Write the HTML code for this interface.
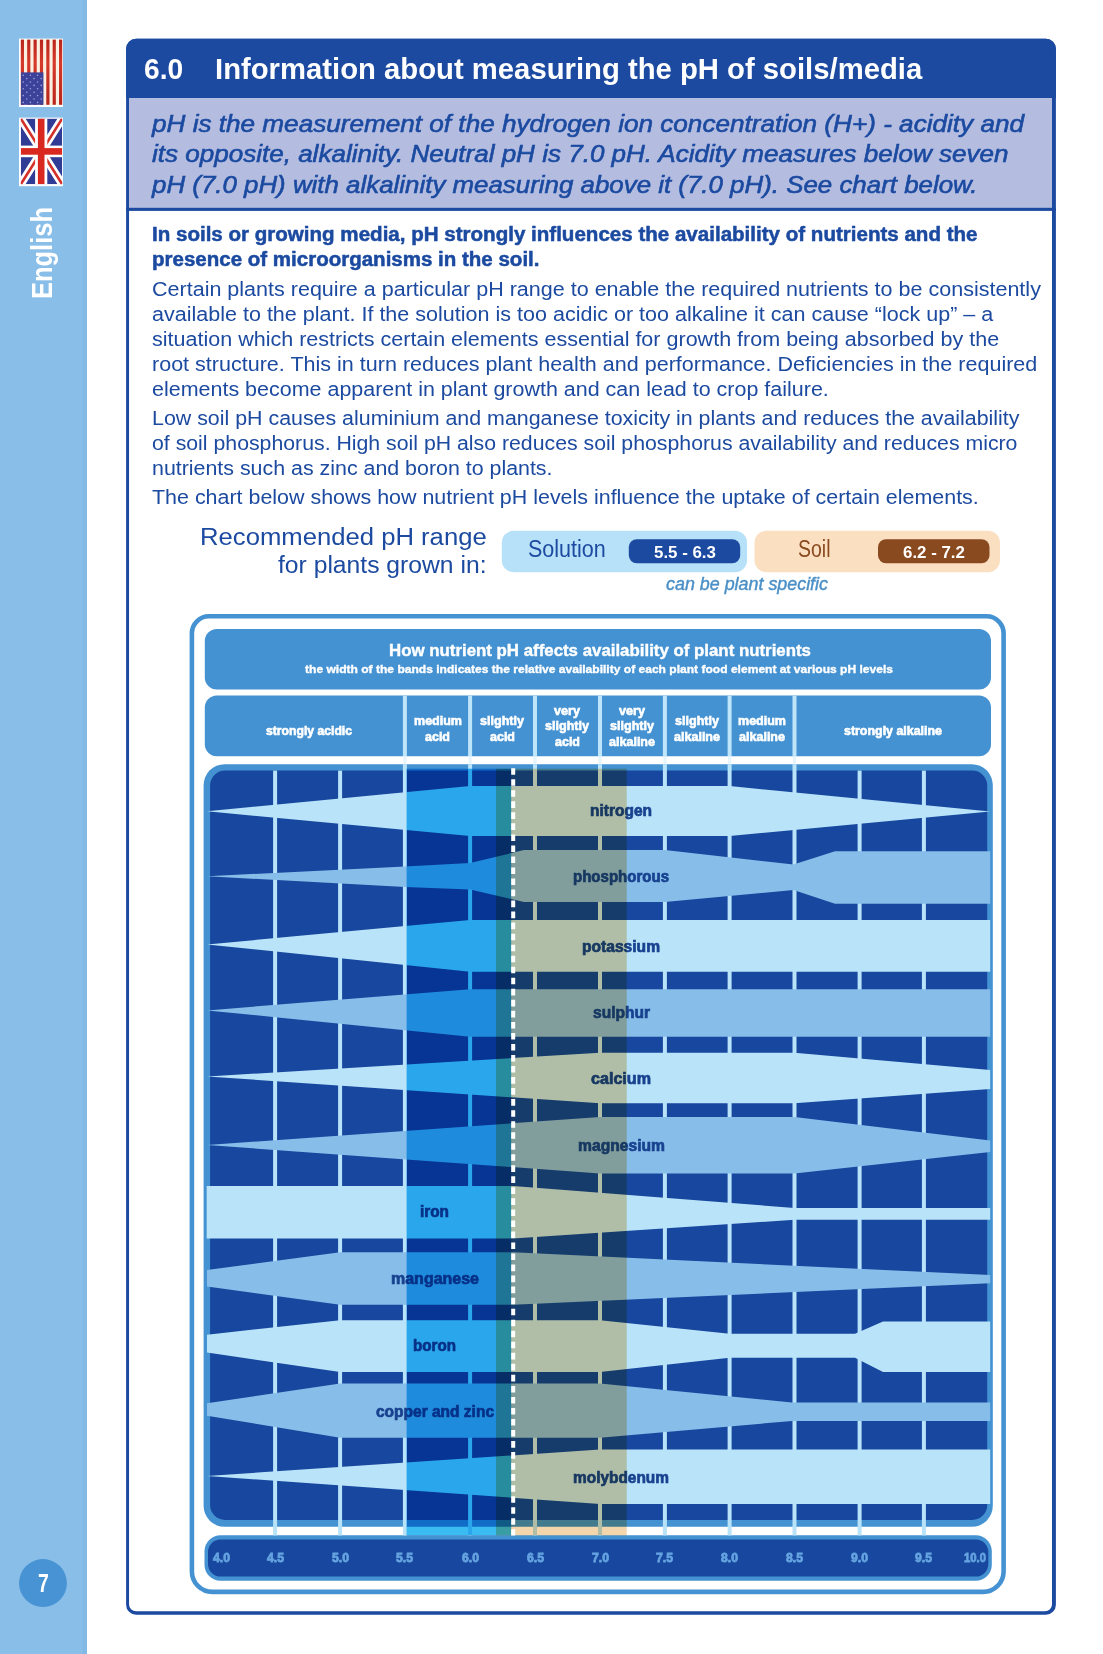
<!DOCTYPE html>
<html lang="en"><head><meta charset="utf-8"><title>6.0 Information about measuring the pH of soils/media</title>
<style>
html,body{margin:0;padding:0;background:#fff;}
body{width:1103px;height:1654px;position:relative;overflow:hidden;font-family:"Liberation Sans",sans-serif;}
#page{position:absolute;left:0;top:0;width:1103px;height:1654px;background:#fff;isolation:isolate;overflow:hidden;}
.t{position:absolute;white-space:pre;line-height:1;transform-origin:0 50%;}
.abs{position:absolute;}
svg{position:absolute;left:0;top:0;}
.mul{position:absolute;left:0;top:0;mix-blend-mode:multiply;}
</style></head><body><div id="page">
<svg width="1103" height="1654" viewBox="0 0 1103 1654">
<rect x="0" y="0" width="86.9" height="1654" fill="#89bee9"/>
<rect x="82.3" y="0" width="4.6" height="1654" fill="#83b9e5"/>
<path fill-rule="evenodd" fill="#1b4aa0" d="M136.10 38.80 H1045.90 A10.00 10.00 0 0 1 1055.90 48.80 V1604.80 A10.00 10.00 0 0 1 1045.90 1614.80 H136.10 A10.00 10.00 0 0 1 126.10 1604.80 V48.80 A10.00 10.00 0 0 1 136.10 38.80 Z M136.05 41.80 H1045.00 A7.00 7.00 0 0 1 1052.00 48.80 V1604.30 A7.00 7.00 0 0 1 1045.00 1611.30 H136.05 A7.00 7.00 0 0 1 129.05 1604.30 V48.80 A7.00 7.00 0 0 1 136.05 41.80 Z"/>
<path fill="#1b4aa0" d="M126.10 98.3 V48.80 A10 10 0 0 1 136.10 38.80 H1045.90 A10 10 0 0 1 1055.90 48.80 V98.3 Z"/>
<rect x="129.05" y="98.1" width="922.95" height="109.9" fill="#b4bde0"/>
<rect x="126.10" y="207.8" width="929.80" height="3.1" fill="#1b4aa0"/>
<rect x="501.8" y="530.8" width="245.2" height="41.4" rx="12" fill="#b7e1f8"/>
<rect x="628.8" y="539.2" width="111.4" height="24.1" rx="8" fill="#1b4aa0"/>
<rect x="754.5" y="530.8" width="245.5" height="41.4" rx="12" fill="#fbdfc1"/>
<rect x="878" y="539.2" width="111.5" height="24.1" rx="8" fill="#8a4a20"/>
<circle cx="42.95" cy="1583.05" r="23.95" fill="#4793d3"/>
<rect x="19" y="38.6" width="44" height="68.4" fill="#fff"/>
<defs><linearGradient id="rg" x1="0" y1="0" x2="0" y2="1"><stop offset="0" stop-color="#b8241c"/><stop offset="0.35" stop-color="#d63a2a"/><stop offset="1" stop-color="#b8241c"/></linearGradient></defs>
<rect x="20.8" y="39.6" width="41.4" height="65.2" fill="#fbefe2"/>
<rect x="20.80" y="39.6" width="3.18" height="65.2" fill="url(#rg)"/>
<rect x="27.17" y="39.6" width="3.18" height="65.2" fill="url(#rg)"/>
<rect x="33.54" y="39.6" width="3.18" height="65.2" fill="url(#rg)"/>
<rect x="39.91" y="39.6" width="3.18" height="65.2" fill="url(#rg)"/>
<rect x="46.28" y="39.6" width="3.18" height="65.2" fill="url(#rg)"/>
<rect x="52.65" y="39.6" width="3.18" height="65.2" fill="url(#rg)"/>
<rect x="59.02" y="39.6" width="3.18" height="65.2" fill="url(#rg)"/>
<rect x="21" y="72.4" width="22.4" height="32.4" fill="#3c4199"/>
<circle cx="23.2" cy="75.2" r="0.8" fill="#9da0d4"/>
<circle cx="30.4" cy="75.2" r="0.8" fill="#9da0d4"/>
<circle cx="37.6" cy="75.2" r="0.8" fill="#9da0d4"/>
<circle cx="26.8" cy="78.6" r="0.8" fill="#9da0d4"/>
<circle cx="34.0" cy="78.6" r="0.8" fill="#9da0d4"/>
<circle cx="41.2" cy="78.6" r="0.8" fill="#9da0d4"/>
<circle cx="23.2" cy="82.0" r="0.8" fill="#9da0d4"/>
<circle cx="30.4" cy="82.0" r="0.8" fill="#9da0d4"/>
<circle cx="37.6" cy="82.0" r="0.8" fill="#9da0d4"/>
<circle cx="26.8" cy="85.4" r="0.8" fill="#9da0d4"/>
<circle cx="34.0" cy="85.4" r="0.8" fill="#9da0d4"/>
<circle cx="41.2" cy="85.4" r="0.8" fill="#9da0d4"/>
<circle cx="23.2" cy="88.8" r="0.8" fill="#9da0d4"/>
<circle cx="30.4" cy="88.8" r="0.8" fill="#9da0d4"/>
<circle cx="37.6" cy="88.8" r="0.8" fill="#9da0d4"/>
<circle cx="26.8" cy="92.2" r="0.8" fill="#9da0d4"/>
<circle cx="34.0" cy="92.2" r="0.8" fill="#9da0d4"/>
<circle cx="41.2" cy="92.2" r="0.8" fill="#9da0d4"/>
<circle cx="23.2" cy="95.6" r="0.8" fill="#9da0d4"/>
<circle cx="30.4" cy="95.6" r="0.8" fill="#9da0d4"/>
<circle cx="37.6" cy="95.6" r="0.8" fill="#9da0d4"/>
<circle cx="26.8" cy="99.0" r="0.8" fill="#9da0d4"/>
<circle cx="34.0" cy="99.0" r="0.8" fill="#9da0d4"/>
<circle cx="41.2" cy="99.0" r="0.8" fill="#9da0d4"/>
<circle cx="23.2" cy="102.4" r="0.8" fill="#9da0d4"/>
<circle cx="30.4" cy="102.4" r="0.8" fill="#9da0d4"/>
<circle cx="37.6" cy="102.4" r="0.8" fill="#9da0d4"/>
<rect x="19" y="117.6" width="44" height="68.6" fill="#fff"/>
<clipPath id="uk"><rect x="20.8" y="118.6" width="41.4" height="65.6"/></clipPath>
<g clip-path="url(#uk)">
<rect x="20.8" y="118.6" width="41.4" height="65.6" fill="#2f3b94"/>
<path d="M20.8 118.6 L62.2 184.2 M62.2 118.6 L20.8 184.2" stroke="#fff" stroke-width="8"/>
<path d="M20.8 118.6 L62.2 184.2 M62.2 118.6 L20.8 184.2" stroke="#d4312a" stroke-width="2.6"/>
<rect x="35.1" y="118.6" width="12.2" height="65.6" fill="#fff"/>
<rect x="20.8" y="145.6" width="41.4" height="11.6" fill="#fff"/>
<rect x="37.9" y="118.6" width="6.6" height="65.6" fill="#d9281f"/>
<rect x="20.8" y="148.1" width="41.4" height="6.6" fill="#d9281f"/>
</g>
<path d="M208.9 616.3 H986.6 A17.0 17.0 0 0 1 1003.6 633.3 V1571.4 A20.5 20.5 0 0 1 983.1 1591.9 H212.4 A20.5 20.5 0 0 1 191.9 1571.4 V633.3 A17.0 17.0 0 0 1 208.9 616.3 Z" fill="none" stroke="#4592d2" stroke-width="4.6"/>
<rect x="204.8" y="629" width="786.2" height="60.6" rx="12" fill="#4592d2"/>
<rect x="204.8" y="695.6" width="786.2" height="60.6" rx="12" fill="#4592d2"/>
<rect x="203.6" y="764.2" width="789.2" height="762.6" rx="21" fill="#4592d2"/>
<rect x="210.1" y="770.6" width="777.1" height="749.3" rx="15" fill="#17479e"/>
<rect x="204.5" y="1535.2" width="787.3" height="45.5" rx="16" fill="#4592d2"/>
<rect x="208" y="1539.6" width="780.3" height="37" rx="12.5" fill="#17479e"/>
<rect x="273.1" y="770.6" width="4" height="764.8" fill="#b9e3f9"/>
<rect x="338.1" y="770.6" width="4" height="764.8" fill="#b9e3f9"/>
<rect x="402.9" y="695.6" width="4" height="60.6" fill="#bfe5fa"/>
<rect x="403.4" y="756.2" width="3" height="8" fill="#e6f4fd"/>
<rect x="402.9" y="764.2" width="4" height="771.2" fill="#b9e3f9"/>
<rect x="468.1" y="695.6" width="4" height="60.6" fill="#bfe5fa"/>
<rect x="468.6" y="756.2" width="3" height="8" fill="#e6f4fd"/>
<rect x="468.1" y="764.2" width="4" height="771.2" fill="#b9e3f9"/>
<rect x="533.0" y="695.6" width="4" height="60.6" fill="#bfe5fa"/>
<rect x="533.5" y="756.2" width="3" height="8" fill="#e6f4fd"/>
<rect x="533.0" y="764.2" width="4" height="771.2" fill="#b9e3f9"/>
<rect x="598.0" y="695.6" width="4" height="60.6" fill="#bfe5fa"/>
<rect x="598.5" y="756.2" width="3" height="8" fill="#e6f4fd"/>
<rect x="598.0" y="764.2" width="4" height="771.2" fill="#b9e3f9"/>
<rect x="662.9" y="695.6" width="4" height="60.6" fill="#bfe5fa"/>
<rect x="663.4" y="756.2" width="3" height="8" fill="#e6f4fd"/>
<rect x="662.9" y="764.2" width="4" height="771.2" fill="#b9e3f9"/>
<rect x="727.6" y="695.6" width="4" height="60.6" fill="#bfe5fa"/>
<rect x="728.1" y="756.2" width="3" height="8" fill="#e6f4fd"/>
<rect x="727.6" y="764.2" width="4" height="771.2" fill="#b9e3f9"/>
<rect x="792.5" y="695.6" width="4" height="60.6" fill="#bfe5fa"/>
<rect x="793.0" y="756.2" width="3" height="8" fill="#e6f4fd"/>
<rect x="792.5" y="764.2" width="4" height="771.2" fill="#b9e3f9"/>
<rect x="857.6" y="770.6" width="4" height="764.8" fill="#b9e3f9"/>
<rect x="921.9" y="770.6" width="4" height="764.8" fill="#b9e3f9"/>
<polygon points="207.0,811.3 470.1,786.0 729.6,786.0 990.2,811.6 729.6,836.0 470.1,836.0" fill="#b9e3f9"/>
<polygon points="207.0,876.3 404.9,866.5 470.1,863.0 524.0,850.0 664.9,850.0 793.5,864.5 835.0,851.2 990.2,851.2 990.2,903.7 835.0,903.7 793.5,890.0 664.9,902.0 524.0,902.0 470.1,889.5 404.9,887.0" fill="#87bde9"/>
<polygon points="207.0,944.5 470.1,920.0 990.2,920.0 990.2,971.7 470.1,971.7" fill="#b9e3f9"/>
<polygon points="207.0,1010.4 470.1,989.2 990.2,989.2 990.2,1036.8 470.1,1036.8" fill="#87bde9"/>
<polygon points="207.0,1076.5 600.0,1052.8 794.5,1052.8 990.2,1070.0 990.2,1089.0 794.5,1103.3 600.0,1103.3" fill="#b9e3f9"/>
<polygon points="207.0,1145.0 600.0,1117.0 794.5,1117.0 990.2,1140.4 990.2,1152.0 794.5,1173.5 600.0,1173.5" fill="#87bde9"/>
<polygon points="206.7,1186.1 513.0,1186.1 794.5,1207.9 990.2,1207.9 990.2,1219.7 794.5,1219.7 513.0,1238.6 206.7,1238.6" fill="#b9e3f9"/>
<polygon points="207.0,1270.0 340.1,1252.3 513.0,1252.3 990.2,1275.0 990.2,1283.3 513.0,1304.8 340.1,1304.8 207.0,1286.4" fill="#87bde9"/>
<polygon points="207.0,1334.7 340.1,1320.2 600.0,1320.2 729.6,1333.8 855.0,1333.8 883.0,1321.4 990.2,1321.4 990.2,1372.0 883.0,1372.0 855.0,1357.8 729.6,1357.8 600.0,1372.0 340.1,1372.0 207.0,1352.6" fill="#b9e3f9"/>
<polygon points="207.0,1403.3 340.1,1383.4 600.0,1383.4 792.0,1402.4 990.2,1402.4 990.2,1421.0 792.0,1421.0 600.0,1437.7 340.1,1437.7 207.0,1415.8" fill="#87bde9"/>
<polygon points="207.0,1476.0 600.0,1449.5 990.2,1449.5 990.2,1504.0 600.0,1504.0" fill="#b9e3f9"/>
</svg>
<div class="t" style="left:266.0px;top:724.5px;font-size:12.2px;font-weight:700;color:#fff;-webkit-text-stroke:0.6px #fff;transform:scaleX(0.9998);">strongly acidic</div>
<div class="t" style="left:413.5px;top:715.0px;font-size:12.2px;font-weight:700;color:#fff;-webkit-text-stroke:0.6px #fff;transform:scaleX(1.0271);">medium</div>
<div class="t" style="left:425.0px;top:730.7px;font-size:12.2px;font-weight:700;color:#fff;-webkit-text-stroke:0.6px #fff;transform:scaleX(1.0250);">acid</div>
<div class="t" style="left:480.0px;top:715.0px;font-size:12.2px;font-weight:700;color:#fff;-webkit-text-stroke:0.6px #fff;transform:scaleX(1.0311);">slightly</div>
<div class="t" style="left:489.5px;top:730.7px;font-size:12.2px;font-weight:700;color:#fff;-webkit-text-stroke:0.6px #fff;transform:scaleX(1.0250);">acid</div>
<div class="t" style="left:554.0px;top:704.7px;font-size:12.2px;font-weight:700;color:#fff;-webkit-text-stroke:0.6px #fff;transform:scaleX(1.0368);">very</div>
<div class="t" style="left:545.0px;top:720.2px;font-size:12.2px;font-weight:700;color:#fff;-webkit-text-stroke:0.6px #fff;transform:scaleX(1.0311);">slightly</div>
<div class="t" style="left:554.5px;top:735.7px;font-size:12.2px;font-weight:700;color:#fff;-webkit-text-stroke:0.6px #fff;transform:scaleX(1.0250);">acid</div>
<div class="t" style="left:619.0px;top:704.7px;font-size:12.2px;font-weight:700;color:#fff;-webkit-text-stroke:0.6px #fff;transform:scaleX(1.0368);">very</div>
<div class="t" style="left:610.0px;top:720.2px;font-size:12.2px;font-weight:700;color:#fff;-webkit-text-stroke:0.6px #fff;transform:scaleX(1.0311);">slightly</div>
<div class="t" style="left:609.0px;top:735.7px;font-size:12.2px;font-weight:700;color:#fff;-webkit-text-stroke:0.6px #fff;transform:scaleX(1.0287);">alkaline</div>
<div class="t" style="left:675.0px;top:715.0px;font-size:12.2px;font-weight:700;color:#fff;-webkit-text-stroke:0.6px #fff;transform:scaleX(1.0311);">slightly</div>
<div class="t" style="left:674.0px;top:730.7px;font-size:12.2px;font-weight:700;color:#fff;-webkit-text-stroke:0.6px #fff;transform:scaleX(1.0287);">alkaline</div>
<div class="t" style="left:738.0px;top:715.0px;font-size:12.2px;font-weight:700;color:#fff;-webkit-text-stroke:0.6px #fff;transform:scaleX(1.0271);">medium</div>
<div class="t" style="left:739.0px;top:730.7px;font-size:12.2px;font-weight:700;color:#fff;-webkit-text-stroke:0.6px #fff;transform:scaleX(1.0287);">alkaline</div>
<div class="t" style="left:844.0px;top:724.5px;font-size:12.2px;font-weight:700;color:#fff;-webkit-text-stroke:0.6px #fff;transform:scaleX(1.0188);">strongly alkaline</div>
<div class="t" style="left:590.0px;top:803.0px;font-size:16px;font-weight:700;color:#18428f;-webkit-text-stroke:0.7px #18428f;transform:scaleX(0.9688);">nitrogen</div>
<div class="t" style="left:573.0px;top:869.3px;font-size:16px;font-weight:700;color:#18428f;-webkit-text-stroke:0.7px #18428f;transform:scaleX(0.9392);">phosphorous</div>
<div class="t" style="left:582.0px;top:938.5px;font-size:16px;font-weight:700;color:#18428f;-webkit-text-stroke:0.7px #18428f;transform:scaleX(0.9748);">potassium</div>
<div class="t" style="left:592.5px;top:1005.0px;font-size:16px;font-weight:700;color:#18428f;-webkit-text-stroke:0.7px #18428f;transform:scaleX(0.9715);">sulphur</div>
<div class="t" style="left:591.0px;top:1070.5px;font-size:16px;font-weight:700;color:#18428f;-webkit-text-stroke:0.7px #18428f;transform:scaleX(1.0068);">calcium</div>
<div class="t" style="left:577.5px;top:1137.5px;font-size:16px;font-weight:700;color:#18428f;-webkit-text-stroke:0.7px #18428f;transform:scaleX(0.9784);">magnesium</div>
<div class="t" style="left:420.0px;top:1204.0px;font-size:16px;font-weight:700;color:#18428f;-webkit-text-stroke:0.7px #18428f;transform:scaleX(0.9597);">iron</div>
<div class="t" style="left:390.5px;top:1270.5px;font-size:16px;font-weight:700;color:#18428f;-webkit-text-stroke:0.7px #18428f;transform:scaleX(0.9995);">manganese</div>
<div class="t" style="left:413.0px;top:1337.5px;font-size:16px;font-weight:700;color:#18428f;-webkit-text-stroke:0.7px #18428f;transform:scaleX(0.9486);">boron</div>
<div class="t" style="left:375.5px;top:1403.5px;font-size:16px;font-weight:700;color:#18428f;-webkit-text-stroke:0.7px #18428f;transform:scaleX(0.9688);">copper and zinc</div>
<div class="t" style="left:573.0px;top:1469.5px;font-size:16px;font-weight:700;color:#18428f;-webkit-text-stroke:0.7px #18428f;transform:scaleX(0.9642);">molybdenum</div>
<svg class="mul" width="1103" height="1654" viewBox="0 0 1103 1654"><rect x="406.6" y="768.7" width="104.6" height="766.7" fill="rgb(58,188,242)"/></svg>
<svg class="mul" width="1103" height="1654" viewBox="0 0 1103 1654"><rect x="496" y="768.7" width="130.7" height="766.7" fill="rgb(243,214,172)"/></svg>
<svg width="1103" height="1654" viewBox="0 0 1103 1654"><line x1="513.2" y1="768.2" x2="513.2" y2="1535.4" stroke="#fff" stroke-width="4" stroke-dasharray="6.6 4.43" stroke-dashoffset="0"/></svg>
<div class="t" style="left:143.6px;top:54.8px;font-size:29px;font-weight:700;color:#fff;transform:scaleX(0.9720);">6.0</div>
<div class="t" style="left:214.8px;top:54.8px;font-size:29px;font-weight:700;color:#fff;transform:scaleX(1.0090);">Information about measuring the pH of soils/media</div>
<div class="t" style="left:151.5px;top:111.9px;font-size:24px;font-style:italic;color:#1b4aa0;-webkit-text-stroke:0.6px #1b4aa0;transform:scaleX(1.0885);">pH is the measurement of the hydrogen ion concentration (H+) - acidity and</div>
<div class="t" style="left:151.5px;top:142.0px;font-size:24px;font-style:italic;color:#1b4aa0;-webkit-text-stroke:0.6px #1b4aa0;transform:scaleX(1.0846);">its opposite, alkalinity. Neutral pH is 7.0 pH. Acidity measures below seven</div>
<div class="t" style="left:151.5px;top:172.9px;font-size:24px;font-style:italic;color:#1b4aa0;-webkit-text-stroke:0.6px #1b4aa0;transform:scaleX(1.0781);">pH (7.0 pH) with alkalinity measuring above it (7.0 pH). See chart below.</div>
<div class="t" style="left:151.5px;top:225.2px;font-size:19.5px;font-weight:700;color:#1b4aa0;-webkit-text-stroke:0.5px #1b4aa0;transform:scaleX(1.0538);">In soils or growing media, pH strongly influences the availability of nutrients and the</div>
<div class="t" style="left:151.5px;top:250.2px;font-size:19.5px;font-weight:700;color:#1b4aa0;-webkit-text-stroke:0.5px #1b4aa0;transform:scaleX(1.0517);">presence of microorganisms in the soil.</div>
<div class="t" style="left:151.5px;top:279.2px;font-size:20px;color:#1b4aa0;transform:scaleX(1.0761);">Certain plants require a particular pH range to enable the required nutrients to be consistently</div>
<div class="t" style="left:151.5px;top:304.1px;font-size:20px;color:#1b4aa0;transform:scaleX(1.0764);">available to the plant. If the solution is too acidic or too alkaline it can cause “lock up” – a</div>
<div class="t" style="left:151.5px;top:329.1px;font-size:20px;color:#1b4aa0;transform:scaleX(1.0764);">situation which restricts certain elements essential for growth from being absorbed by the</div>
<div class="t" style="left:151.5px;top:354.1px;font-size:20px;color:#1b4aa0;transform:scaleX(1.0766);">root structure. This in turn reduces plant health and performance. Deficiencies in the required</div>
<div class="t" style="left:151.5px;top:379.0px;font-size:20px;color:#1b4aa0;transform:scaleX(1.0736);">elements become apparent in plant growth and can lead to crop failure.</div>
<div class="t" style="left:151.5px;top:408.4px;font-size:20px;color:#1b4aa0;transform:scaleX(1.0689);">Low soil pH causes aluminium and manganese toxicity in plants and reduces the availability</div>
<div class="t" style="left:151.5px;top:433.4px;font-size:20px;color:#1b4aa0;transform:scaleX(1.0635);">of soil phosphorus. High soil pH also reduces soil phosphorus availability and reduces micro</div>
<div class="t" style="left:151.5px;top:458.3px;font-size:20px;color:#1b4aa0;transform:scaleX(1.0689);">nutrients such as zinc and boron to plants.</div>
<div class="t" style="left:151.5px;top:486.8px;font-size:20px;color:#1b4aa0;transform:scaleX(1.0716);">The chart below shows how nutrient pH levels influence the uptake of certain elements.</div>
<div class="t" style="left:199.8px;top:525.7px;font-size:23.5px;color:#1b4aa0;transform:scaleX(1.0919);">Recommended pH range</div>
<div class="t" style="left:278.0px;top:553.6px;font-size:23.5px;color:#1b4aa0;transform:scaleX(1.0501);">for plants grown in:</div>
<div class="t" style="left:527.7px;top:538.1px;font-size:23.5px;color:#1b4aa0;transform:scaleX(0.9160);">Solution</div>
<div class="t" style="left:653.6px;top:543.5px;font-size:16.5px;font-weight:700;color:#fff;transform:scaleX(1.0223);">5.5 - 6.3</div>
<div class="t" style="left:797.9px;top:538.1px;font-size:23.5px;color:#8a4a20;transform:scaleX(0.8293);">Soil</div>
<div class="t" style="left:902.9px;top:543.5px;font-size:16.5px;font-weight:700;color:#fff;transform:scaleX(1.0223);">6.2 - 7.2</div>
<div class="t" style="left:666.0px;top:575.2px;font-size:18px;font-style:italic;color:#4a8fc6;-webkit-text-stroke:0.4px #4a8fc6;transform:scaleX(0.9932);">can be plant specific</div>
<div class="t" style="left:389.0px;top:642.0px;font-size:16.5px;font-weight:700;color:#fff;-webkit-text-stroke:0.4px #fff;transform:scaleX(1.0206);">How nutrient pH affects availability of plant nutrients</div>
<div class="t" style="left:304.5px;top:663.8px;font-size:11.5px;font-weight:700;color:#fff;-webkit-text-stroke:0.35px #fff;transform:scaleX(1.0480);">the width of the bands indicates the relative availability of each plant food element at various pH levels</div>
<div class="t" style="left:37.5px;top:1569.5px;font-size:26.7px;font-weight:700;color:#fff;transform:scaleX(0.7276);">7</div>
<div class="t" style="left:213.2px;top:1551.9px;font-size:12.5px;font-weight:700;color:#65a3e0;-webkit-text-stroke:0.8px #65a3e0;transform:scaleX(0.9775);">4.0</div>
<div class="t" style="left:266.6px;top:1551.9px;font-size:12.5px;font-weight:700;color:#65a3e0;-webkit-text-stroke:0.8px #65a3e0;transform:scaleX(0.9775);">4.5</div>
<div class="t" style="left:331.6px;top:1551.9px;font-size:12.5px;font-weight:700;color:#65a3e0;-webkit-text-stroke:0.8px #65a3e0;transform:scaleX(0.9775);">5.0</div>
<div class="t" style="left:396.4px;top:1551.9px;font-size:12.5px;font-weight:700;color:#65a3e0;-webkit-text-stroke:0.8px #65a3e0;transform:scaleX(0.9775);">5.5</div>
<div class="t" style="left:461.6px;top:1551.9px;font-size:12.5px;font-weight:700;color:#65a3e0;-webkit-text-stroke:0.8px #65a3e0;transform:scaleX(0.9775);">6.0</div>
<div class="t" style="left:526.5px;top:1551.9px;font-size:12.5px;font-weight:700;color:#65a3e0;-webkit-text-stroke:0.8px #65a3e0;transform:scaleX(0.9775);">6.5</div>
<div class="t" style="left:591.5px;top:1551.9px;font-size:12.5px;font-weight:700;color:#65a3e0;-webkit-text-stroke:0.8px #65a3e0;transform:scaleX(0.9775);">7.0</div>
<div class="t" style="left:656.4px;top:1551.9px;font-size:12.5px;font-weight:700;color:#65a3e0;-webkit-text-stroke:0.8px #65a3e0;transform:scaleX(0.9775);">7.5</div>
<div class="t" style="left:721.1px;top:1551.9px;font-size:12.5px;font-weight:700;color:#65a3e0;-webkit-text-stroke:0.8px #65a3e0;transform:scaleX(0.9775);">8.0</div>
<div class="t" style="left:786.0px;top:1551.9px;font-size:12.5px;font-weight:700;color:#65a3e0;-webkit-text-stroke:0.8px #65a3e0;transform:scaleX(0.9775);">8.5</div>
<div class="t" style="left:851.1px;top:1551.9px;font-size:12.5px;font-weight:700;color:#65a3e0;-webkit-text-stroke:0.8px #65a3e0;transform:scaleX(0.9775);">9.0</div>
<div class="t" style="left:915.4px;top:1551.9px;font-size:12.5px;font-weight:700;color:#65a3e0;-webkit-text-stroke:0.8px #65a3e0;transform:scaleX(0.9775);">9.5</div>
<div class="t" style="left:963.8px;top:1551.9px;font-size:12.5px;font-weight:700;color:#65a3e0;-webkit-text-stroke:0.8px #65a3e0;transform:scaleX(0.9037);">10.0</div>
<div class="abs" style="left:42px;top:252.8px;width:0;height:0;"><div id="eng" style="position:absolute;left:0;top:0;white-space:pre;line-height:1;font-size:30px;font-weight:700;color:#fff;transform:translate(-50%,-50%) rotate(-90deg) scaleX(0.85);">English</div></div>
</div></body></html>
